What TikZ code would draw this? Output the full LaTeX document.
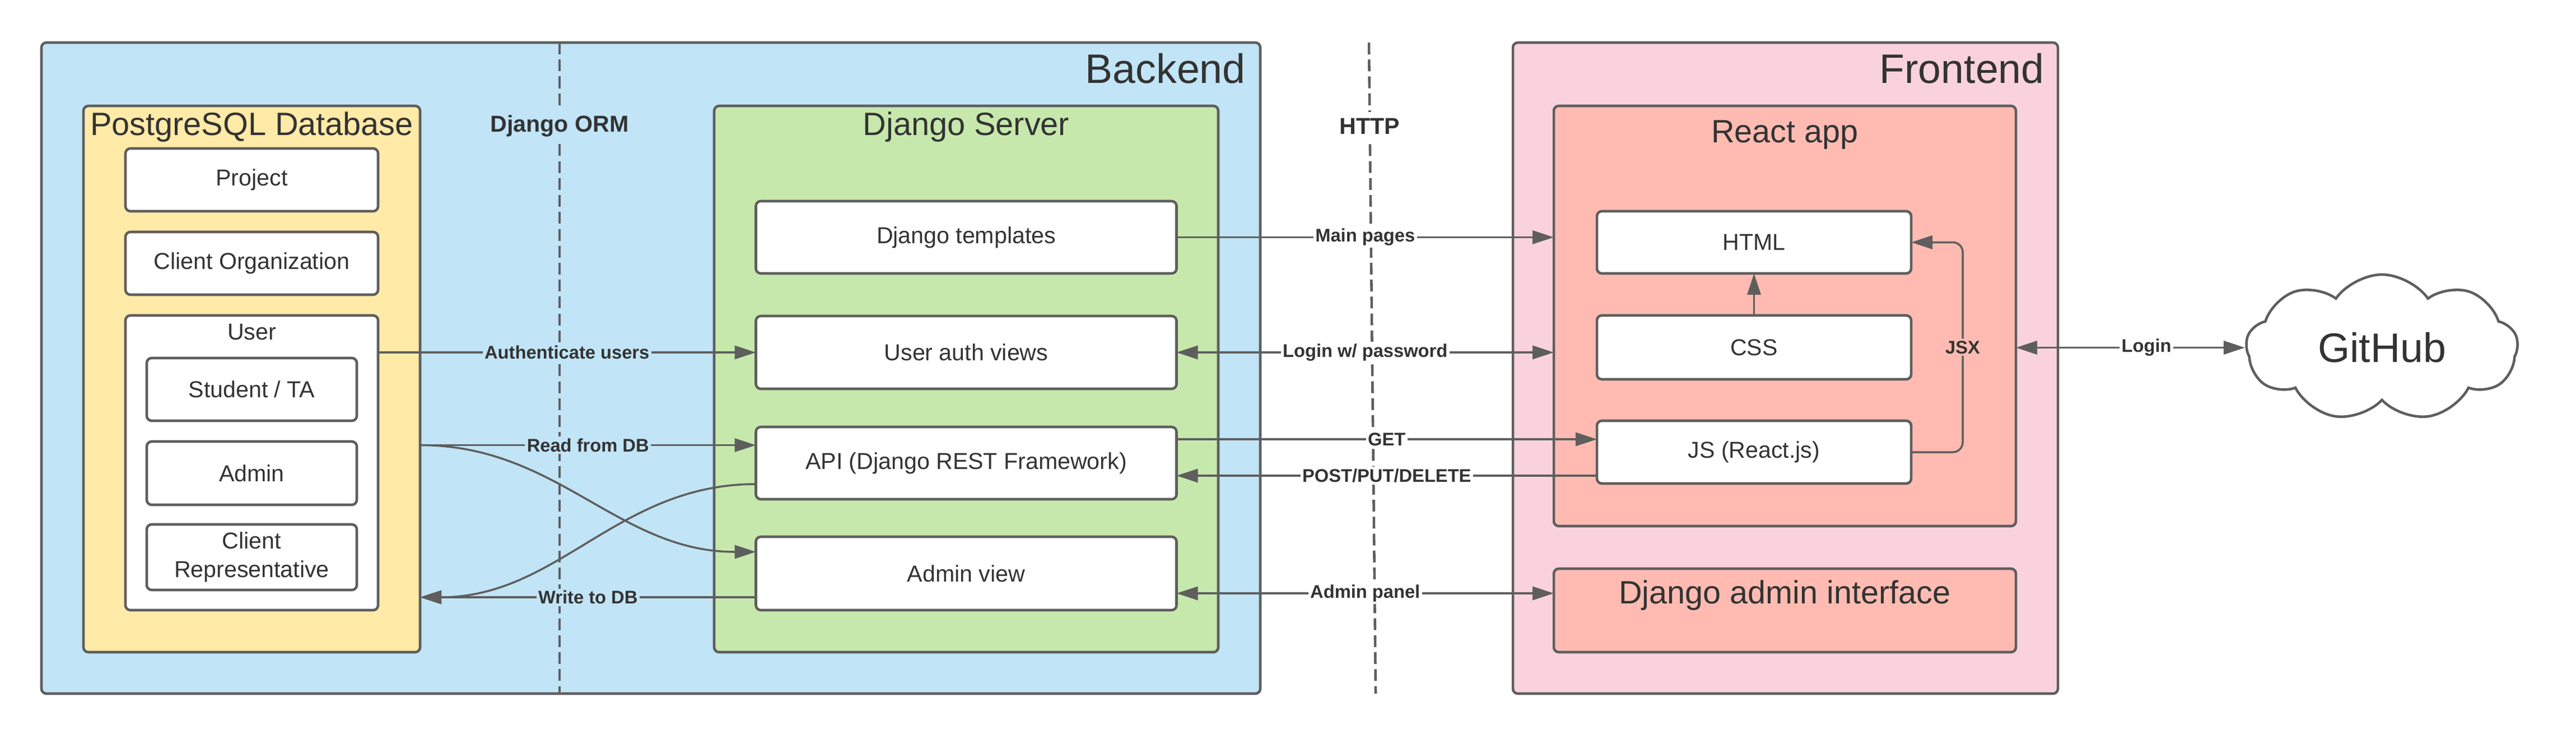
\documentclass[tikz,border=0pt]{standalone}
\usepackage{fontspec}
\setmainfont{Liberation Sans}
\usepackage{tikz}
\usetikzlibrary{arrows.meta, positioning, shapes.symbols}
\definecolor{colorBackend}{HTML}{C1E4F6}
\definecolor{colorDatabase}{HTML}{FFEAA7}
\definecolor{colorServer}{HTML}{C7E8AC}
\definecolor{colorFrontend}{HTML}{F9D2DD}
\definecolor{colorReact}{HTML}{FFBBB1}
\definecolor{colorLine}{HTML}{5E5E5E}
\definecolor{colorText}{HTML}{333333}
\newcommand{\boxfont}{\fontsize{11.7}{14.5}\selectfont}
\newcommand{\titlefont}{\fontsize{16.4}{19}\selectfont}
\newcommand{\bigfont}{\fontsize{20.9}{25}\selectfont}
\newcommand{\edgefont}{\fontsize{9.3}{11}\selectfont\bfseries}

\begin{document}
\begin{tikzpicture}[>={Triangle[length=3.8mm, width=2.4mm]},
  container/.style={draw=colorLine, line width=1.3pt, rounded corners=2.5pt, inner sep=0pt, outer sep=0pt},
  box/.style={draw=colorLine, fill=white, line width=1.3pt, rounded corners=2.5pt, inner sep=0pt, outer sep=0pt, font=\boxfont, align=center, text=colorText},
  title/.style={font=\titlefont, text=colorText},
  bigtitle/.style={font=\bigfont, text=colorText},
  zone/.style={font=\boxfont\bfseries, text=colorText, fill=white, inner sep=3pt},
  divider/.style={draw=colorLine, line width=1.3pt, dash pattern=on 6pt off 2.6pt},
  conn/.style={draw=colorLine, line width=1pt},
  edgelabel/.style={font=\edgefont, text=colorText, fill=white, inner sep=1pt}]
\fill[white] (0,0) rectangle (45.99,-13.18);
\useasboundingbox (0,0) rectangle (45.99,-13.18);
% the two sides
\node[container, fill=colorBackend, minimum width=21.76cm, minimum height=11.62cm] (backend) at (11.62,-6.57) {};
\node[container, fill=colorFrontend, minimum width=9.73cm, minimum height=11.62cm] (frontend) at (31.875,-6.57) {};
\node[bigtitle, anchor=east] at ([xshift=-0.14cm, yshift=-0.46cm]backend.north east) {Backend};
\node[bigtitle, anchor=east] at ([xshift=-0.12cm, yshift=-0.46cm]frontend.north east) {Frontend};
% dividers
\coordinate (ormTop) at (9.99,-0.76);
\coordinate (ormBottom) at (9.99,-12.38);
\coordinate (httpTop) at (24.44,-0.76);
\coordinate (httpBottom) at (24.56,-12.38);
\draw[divider] (ormTop) -- (ormBottom);
\draw[divider] (httpTop) -- (httpBottom);
\node[zone, fill=colorBackend] (orm) at (9.99,-2.25) {Django ORM};
\node[zone] (http) at (24.45,-2.25) {HTTP};
% database
\node[container, fill=colorDatabase, minimum width=6.01cm, minimum height=9.75cm] (db) at (4.495,-6.765) {};
\node[title] at ([yshift=-0.38cm]db.north) {PostgreSQL Database};
\node[box, minimum width=4.51cm, minimum height=1.12cm, below=0.76cm of db.north] (project) {Project};
\node[box, minimum width=4.51cm, minimum height=1.12cm, below=0.37cm of project] (clientOrg) {Client Organization};
\node[box, minimum width=4.51cm, minimum height=5.26cm, below=0.37cm of clientOrg] (user) {};
\node[font=\boxfont, text=colorText] at ([yshift=-0.30cm]user.north) {User};
\node[box, minimum width=3.75cm, minimum height=1.12cm, below=0.76cm of user.north] (student) {Student / TA};
\node[box, minimum width=3.75cm, minimum height=1.13cm, below=0.37cm of student] (admin) {Admin};
\node[box, minimum width=3.75cm, minimum height=1.17cm, below=0.35cm of admin] (clientRep) {Client\\Representative};
% server
\node[container, fill=colorServer, minimum width=9.0cm, minimum height=9.75cm] (server) at (17.25,-6.765) {};
\node[title] at ([yshift=-0.38cm]server.north) {Django Server};
\node[box, minimum width=7.51cm, minimum height=1.29cm, below=1.70cm of server.north] (templates) {Django templates};
\node[box, minimum width=7.51cm, minimum height=1.30cm, below=0.76cm of templates] (userAuth) {User auth views};
\node[box, minimum width=7.51cm, minimum height=1.29cm, below=0.68cm of userAuth] (api) {API (Django REST Framework)};
\node[box, minimum width=7.51cm, minimum height=1.31cm, below=0.67cm of api] (adminView) {Admin view};
% frontend
\node[container, fill=colorReact, minimum width=8.25cm, minimum height=7.5cm] (reactApp) at (31.865,-5.64) {};
\node[title] at ([yshift=-0.52cm]reactApp.north) {React app};
\node[box, minimum width=5.61cm, minimum height=1.11cm, below right=1.88cm and 0.77cm of reactApp.north west] (html) {HTML};
\node[box, minimum width=5.61cm, minimum height=1.14cm, below=0.75cm of html] (css) {CSS};
\node[box, minimum width=5.61cm, minimum height=1.12cm, below=0.74cm of css] (js) {JS (React.js)};
\node[container, fill=colorReact, minimum width=8.25cm, minimum height=1.49cm, below=0.76cm of reactApp] (djangoAdmin) {};
\node[title] at ([yshift=-0.48cm]djangoAdmin.north) {Django admin interface};
% github
\node[cloud, draw=colorLine, fill=white, line width=1.3pt, cloud puffs=9, cloud puff arc=110, aspect=1.86,
  minimum width=4.85cm, minimum height=2.61cm, inner sep=0pt, font=\bigfont, text=colorText] (github) at (42.525,-6.205) {GitHub};
% ORM connectors
\coordinate (readIn) at ([yshift=3.2mm]api.west);
\coordinate (writeOut) at ([yshift=-4.25mm]adminView.west);
\draw[conn, ->] (userAuth.west -| user.east) -- (userAuth.west) node[edgelabel, fill=colorBackend, midway] {Authenticate users};
\draw[conn, ->] (readIn -| db.east) to[out=0, in=180] ([yshift=3.85mm]adminView.west);
\draw[conn, ->] ([yshift=-3.75mm]api.west) to[out=180, in=0] (writeOut -| db.east);
\draw[conn, ->] (readIn -| db.east) -- (readIn) node[edgelabel, fill=colorBackend, midway] {Read from DB};
\draw[conn, ->] (writeOut) -- (writeOut -| db.east) node[edgelabel, fill=colorBackend, midway] {Write to DB};
% HTTP connectors
\coordinate (getOut) at ([yshift=4.25mm]api.east);
\coordinate (postOut) at ([yshift=-4.2mm]js.west);
\coordinate (panelIn) at ([yshift=-3.55mm]adminView.east);
\draw[conn, ->] (templates.east) -- (templates.east -| reactApp.west) node[edgelabel, midway] {Main pages};
\draw[conn, <->] (userAuth.east) -- (userAuth.east -| reactApp.west) node[edgelabel, midway] {Login w/ password};
\draw[conn, ->] (getOut) -- (getOut -| js.west) node[edgelabel, midway] {GET};
\draw[conn, ->] (postOut) -- (postOut -| api.east) node[edgelabel, midway] {POST/PUT/DELETE};
\draw[conn, <->] (panelIn) -- (panelIn -| djangoAdmin.west) node[edgelabel, midway] {Admin panel};
% inside react
\draw[conn, ->] (css) -- (html);
\draw[conn, ->, rounded corners=5pt] (js.east) -- ++(0.92,0) |- (html.east) node[edgelabel, fill=colorReact, pos=0.25] {JSX};
\draw[conn, <->] (github.west -| reactApp.east) -- (github.west) node[edgelabel, pos=0.57] {Login};
\end{tikzpicture}
\end{document}
